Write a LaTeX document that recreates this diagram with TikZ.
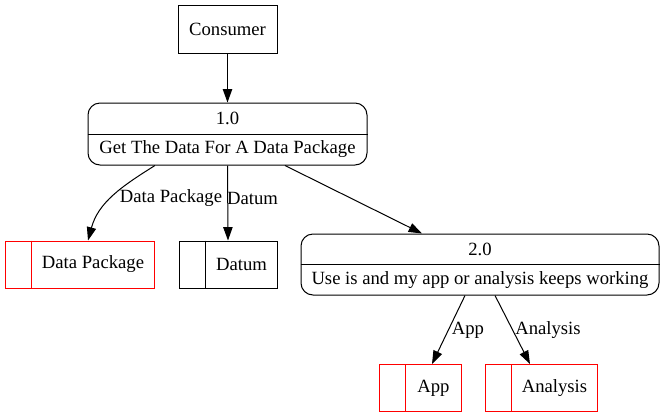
\documentclass[tikz,border=0pt]{standalone}
\usepackage{fontspec}
\setmainfont{Liberation Serif}
\usetikzlibrary{arrows.meta}

\begin{document}
\begin{tikzpicture}[x=0.75pt,y=-0.75pt,line width=0.75pt,>={Triangle[length=10pt,width=7pt]},
    font=\fontsize{14pt}{16pt}\selectfont,
    entity/.style={draw,minimum width=74.25pt,minimum height=36pt,inner sep=0pt},
    process/.style={draw,rounded corners=9pt,inner sep=0pt},
    store/.style={draw,minimum height=35.25pt,inner sep=0pt},
    word/.style={inner sep=0pt}]

    \useasboundingbox (0,0) rectangle (665,419);

    % external entity
    \node[entity] (consumer) at (227.5,29) {Consumer};

    % processes
    \node[process,minimum width=209.25pt,minimum height=46.5pt] (p1) at (227.5,134) {};
    \draw (p1.west) -- (p1.east);
    \node[word] (p1id) at (227.5,118) {1.0};
    \node[word] (p1txt) at (227.5,149) {Get The Data For A Data Package};

    \node[process,minimum width=268.5pt,minimum height=45.75pt] (p2) at (480,264.5) {};
    \draw (p2.west) -- (p2.east);
    \node[word] (p2id) at (480,249) {2.0};
    \node[word] (p2txt) at (480,280) {Use is and my app or analysis keeps working};

    % data stores
    \node[store,red,minimum width=111.75pt] (dp) at (79.5,264.5) {};
    \draw[red] ([xshift=20.25pt]dp.north west) -- ([xshift=20.25pt]dp.south west);
    \node[word] (dptxt) at (93,264.5) {Data Package};

    \node[store,minimum width=73.5pt] (datum) at (228,264.5) {};
    \draw ([xshift=20.25pt]datum.north west) -- ([xshift=20.25pt]datum.south west);
    \node[word] (datumtxt) at (241.5,264.5) {Datum};

    \node[store,red,minimum width=61.5pt] (app) at (420,388) {};
    \draw[red] ([xshift=20.25pt]app.north west) -- ([xshift=20.25pt]app.south west);
    \node[word] (apptxt) at (433.5,388) {App};

    \node[store,red,minimum width=84pt] (analysis) at (541,388) {};
    \draw[red] ([xshift=20.25pt]analysis.north west) -- ([xshift=20.25pt]analysis.south west);
    \node[word] (analysistxt) at (554.5,388) {Analysis};

    % flows
    \draw[->] (consumer.south) -- (p1.north);
    \draw[->] ([xshift=-54.4pt]p1.south) to[out=212,in=75] ([xshift=6.4pt]dp.north);
    \draw[->] (p1.south) -- (datum.north);
    \draw[->] ([xshift=43.1pt]p1.south) -- ([xshift=-43.5pt]p2.north);
    \draw[->] ([xshift=-11.25pt]p2.south) -- ([xshift=9pt]app.north);
    \draw[->] ([xshift=11.25pt]p2.south) -- ([xshift=-8.25pt]analysis.north);

    % flow labels
    \node[word] (ldp) at (171,198) {Data Package};
    \node[word] (ldatum) at (252.5,198) {Datum};
    \node[word] (lapp) at (468,330) {App};
    \node[word] (lanalysis) at (548,330) {Analysis};

\end{tikzpicture}
\end{document}
